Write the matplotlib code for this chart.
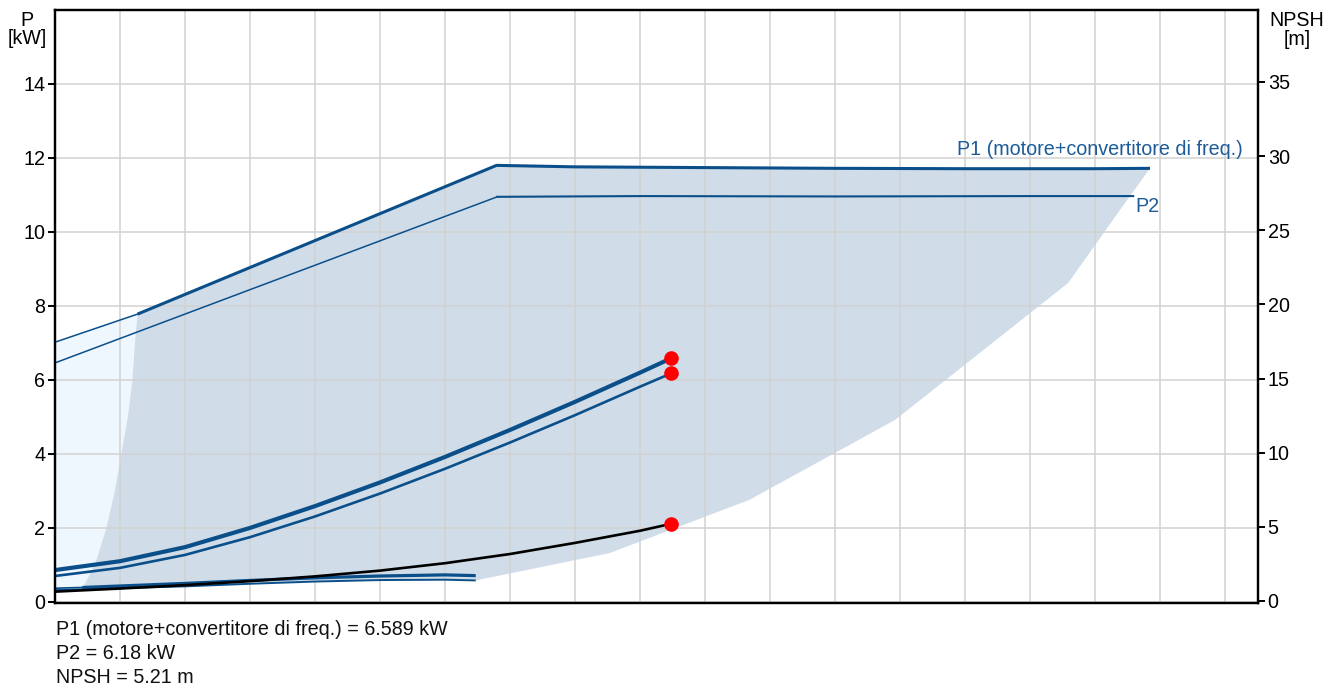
import matplotlib
matplotlib.use("Agg")
import matplotlib.pyplot as plt

plt.rcParams['font.family'] = ['Liberation Sans', 'DejaVu Sans']

# ---------------- data ----------------
# flow axis in grid units (one unit per vertical gridline)
op_q = [0, 1, 2, 3, 4, 5, 6, 7, 8, 9, 9.48]
p1_op = [0.86, 1.10, 1.48, 2.00, 2.59, 3.23, 3.92, 4.65, 5.41, 6.20, 6.589]
p2_op = [0.70, 0.92, 1.27, 1.75, 2.31, 2.93, 3.60, 4.31, 5.05, 5.82, 6.18]
npsh_op = [0.63, 0.84, 1.07, 1.34, 1.66, 2.05, 2.55, 3.17, 3.92, 4.74, 5.21]

duty_q = 9.48
duty_p1 = 6.589
duty_p2 = 6.18
duty_npsh = 5.21

# minimum-speed power curves
lo_q = [0, 0.42, 1, 2, 3, 4, 5, 6, 6.47]
lo1_p = [0.37, 0.39, 0.43, 0.50, 0.58, 0.65, 0.70, 0.73, 0.71]
lo2_p = [0.32, 0.34, 0.37, 0.42, 0.49, 0.55, 0.59, 0.60, 0.58]

# maximum power lines
p1max_q = [0, 1.27, 6.79, 8, 10, 12, 14, 16, 16.84]
p1max_p = [7.02, 7.78, 11.80, 11.76, 11.74, 11.72, 11.71, 11.71, 11.72]
p2max_q = [0, 6.80, 9, 12, 15, 16.58]
p2max_p = [6.46, 10.95, 10.97, 10.96, 10.97, 10.97]

# left limit of the operating range
edge_q = [0.42, 0.55, 0.64, 0.79, 0.92, 1.02, 1.12, 1.19, 1.23, 1.27]
edge_p = [0.34, 0.80, 1.14, 2.00, 3.00, 4.00, 5.00, 6.00, 7.00, 7.78]

# right limit of the operating range (top to bottom)
right_q = [16.84, 16.53, 15.58, 12.92, 10.68, 8.53, 6.47]
right_p = [11.72, 10.97, 8.62, 4.92, 2.76, 1.32, 0.58]

p_ticks = [0, 2, 4, 6, 8, 10, 12, 14]
npsh_ticks = [0, 5, 10, 15, 20, 25, 30, 35]
q_grid = list(range(1, 19))

label_p1 = "P1 (motore+convertitore di freq.)"
label_p2 = "P2"
result_lines = ["P1 (motore+convertitore di freq.) = 6.589 kW",
                "P2 = 6.18 kW",
                "NPSH = 5.21 m"]

# ---------------- style ----------------
BLUE = "#0b4f8a"
LBLUE = "#1d5c98"
FILL = "#d0dce8"
LFILL = "#eef6fe"
GRID = "#d2d2d2"
FS = 14.2

W, H = 1339, 689
fig = plt.figure(figsize=(W / 100, H / 100), dpi=100)
ax = fig.add_axes([55 / W, 1 - 603 / H, (1258 - 55) / W, (603 - 10) / H])

ax.set_xlim(0, 18.5)
ax.set_ylim(-0.03, 16.0)

# light region (left of operating limit)
light_q = [lo_q[0], lo_q[1]] + edge_q[1:] + p1max_q[1::-1]
light_p = [lo2_p[0], lo2_p[1]] + edge_p[1:] + p1max_p[1::-1]
ax.fill(light_q, light_p, color=LFILL, lw=0, zorder=0.2)

# operating region
reg_q = edge_q + p1max_q[2:] + right_q[1:] + lo_q[-2:1:-1]
reg_p = edge_p + p1max_p[2:] + right_p[1:] + lo2_p[-2:1:-1]
ax.fill(reg_q, reg_p, color=FILL, lw=0, zorder=0.3)

# grid
ax.set_axisbelow(True)
ax.set_xticks(q_grid)
ax.set_yticks(p_ticks)
ax.grid(True, color=GRID, lw=1.1)
ax.tick_params(axis='x', length=0, labelbottom=False)
ax.tick_params(axis='y', direction='out', length=5, width=1.4, pad=2,
               labelsize=FS, colors='black')
for s in ax.spines.values():
    s.set_linewidth(1.6)
    s.set_color('black')

# max power lines
ax.plot(p1max_q[:2], p1max_p[:2], color=BLUE, lw=1.1, zorder=3)
ax.plot(p1max_q[1:], p1max_p[1:], color=BLUE, lw=2.2, zorder=3,
        solid_capstyle='butt')
ax.plot(p2max_q[:2], p2max_p[:2], color=BLUE, lw=1.1, zorder=3)
ax.plot(p2max_q[1:], p2max_p[1:], color=BLUE, lw=1.5, zorder=3)

# minimum speed lines
ax.plot(lo_q[:2], lo1_p[:2], color=BLUE, lw=1.2, zorder=3)
ax.plot(lo_q[1:], lo1_p[1:], color=BLUE, lw=2.3, zorder=3, solid_capstyle='butt')
ax.plot(lo_q, lo2_p, color=BLUE, lw=1.4, zorder=3, solid_capstyle='butt')

# operating curves
ax.plot(op_q, p1_op, color=BLUE, lw=3.0, zorder=4, solid_capstyle='butt')
ax.plot(op_q, p2_op, color=BLUE, lw=1.9, zorder=4, solid_capstyle='butt')
ax.plot([duty_q], [duty_p1], 'o', color='#ff0000', ms=10.5, mec='none', zorder=6)
ax.plot([duty_q], [duty_p2], 'o', color='#ff0000', ms=10.5, mec='none', zorder=6)

ax.text(18.27, 12.08, label_p1, color=LBLUE, fontsize=FS, ha='right', va='baseline')
ax.text(16.61, 10.54, label_p2, color=LBLUE, fontsize=FS, ha='left', va='baseline')

# right axis: NPSH
ax2 = ax.twinx()
ax2.set_ylim(-0.135, 39.85)
ax2.set_yticks(npsh_ticks)
ax2.tick_params(axis='y', direction='out', length=5, width=1.4, pad=2,
                labelsize=FS, colors='black')
for s in ax2.spines.values():
    s.set_linewidth(1.6)
    s.set_color('black')
ax2.plot(op_q, npsh_op, color='black', lw=1.9, zorder=4, solid_capstyle='butt')
ax2.plot([duty_q], [duty_npsh], 'o', color='#ff0000', ms=10.5, mec='none', zorder=6)

# axis titles
fig.text(27 / W, 1 - 26 / H, "P", fontsize=FS, ha='center', va='baseline')
fig.text(27 / W, 1 - 44 / H, "[kW]", fontsize=FS, ha='center', va='baseline')
fig.text(1297 / W, 1 - 26 / H, "NPSH", fontsize=FS, ha='center', va='baseline')
fig.text(1297 / W, 1 - 45 / H, "[m]", fontsize=FS, ha='center', va='baseline')

# results below the chart
for i, line in enumerate(result_lines):
    fig.text(56 / W, 1 - (635 + 24 * i) / H, line, fontsize=FS,
             ha='left', va='baseline', color='#111111')

fig.savefig("out.png", dpi=100)
